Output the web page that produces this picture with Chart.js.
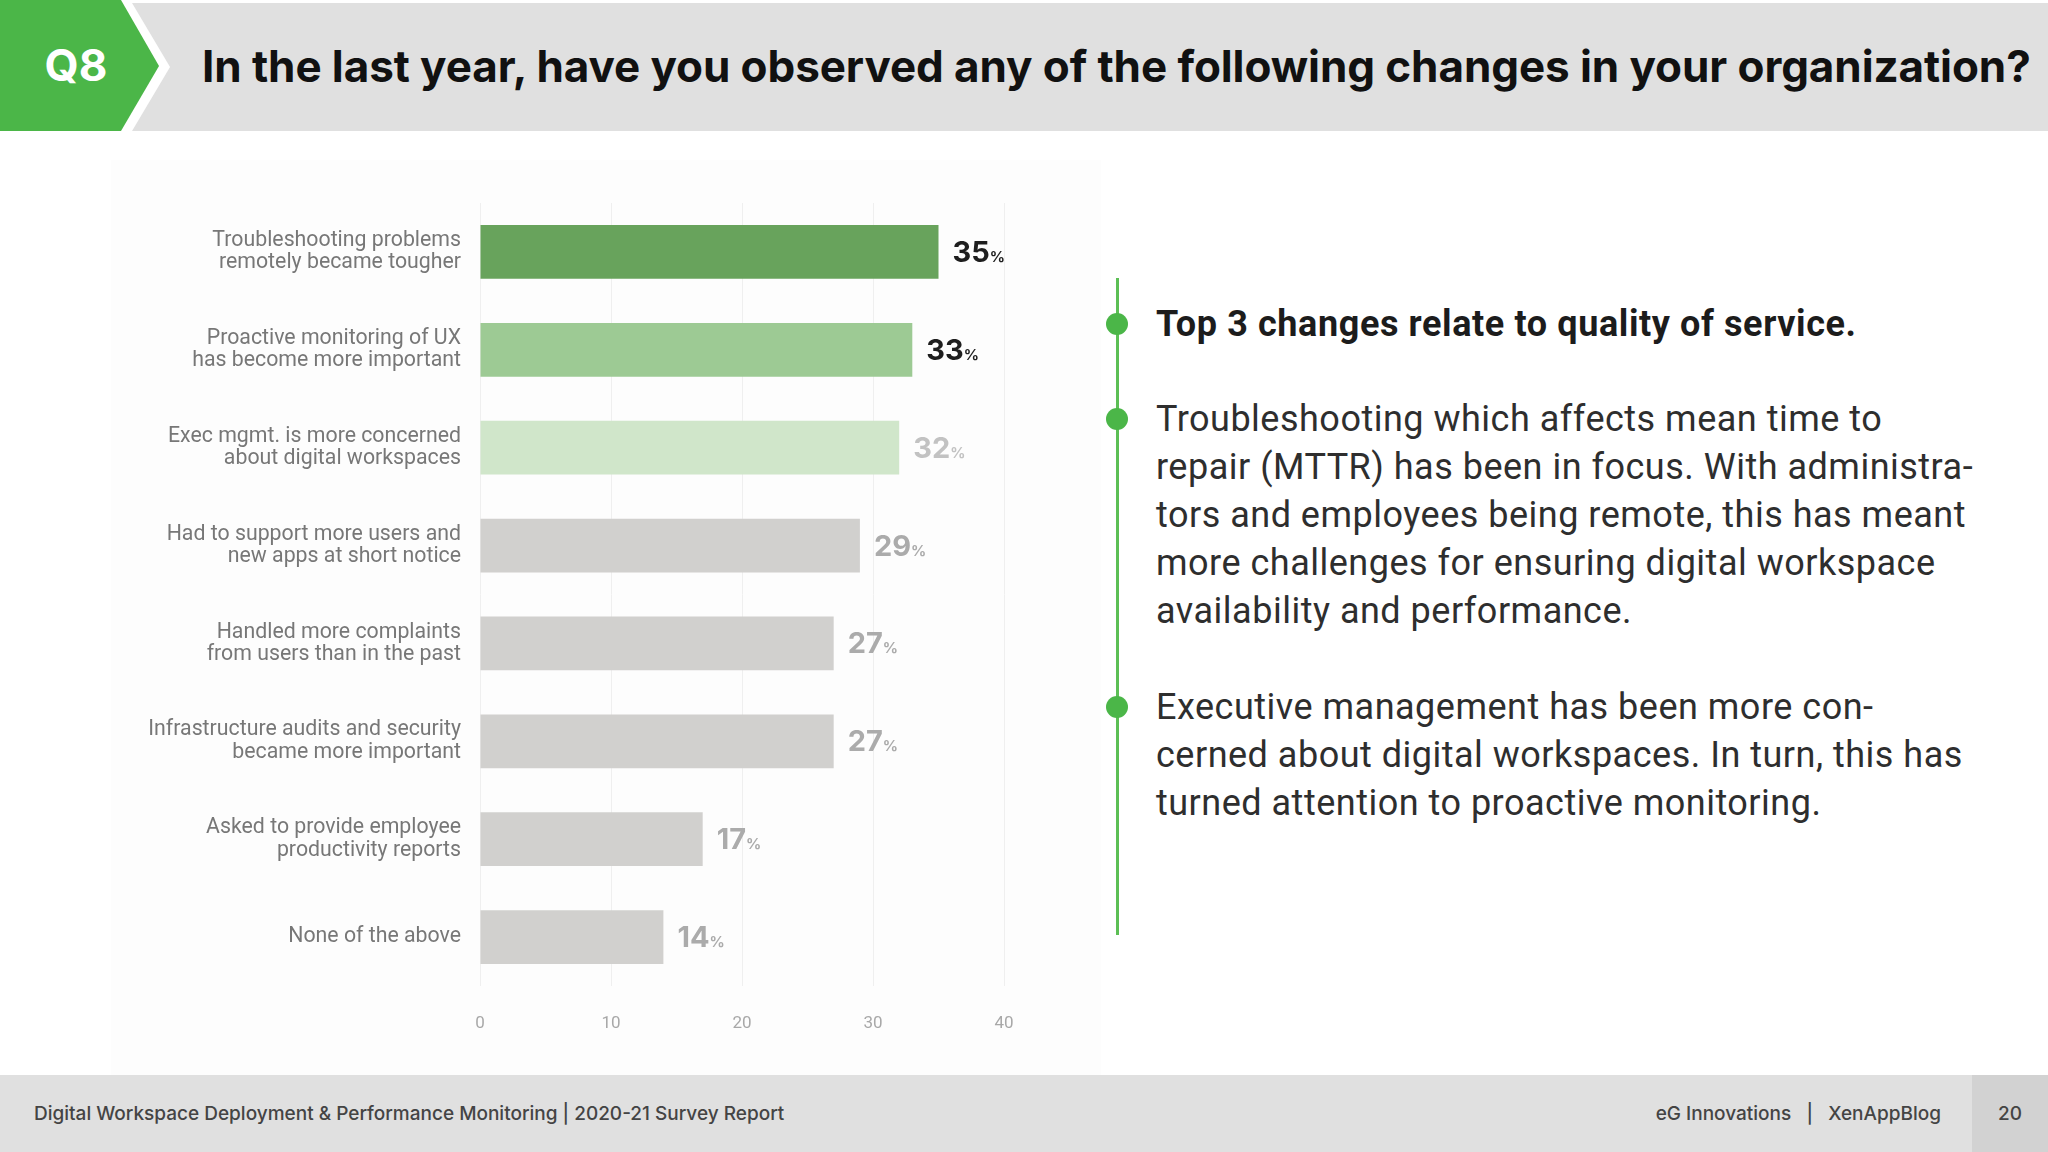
<!DOCTYPE html>
<html>
<head>
<meta charset="utf-8">
<script src="https://cdn.jsdelivr.net/npm/chart.js@4/dist/chart.umd.min.js"></script>
<style>
  html, body { margin: 0; padding: 0; background: #fff; }
  body { width: 2048px; height: 1152px; position: relative; overflow: hidden; font-family: Roboto, sans-serif; }
  .header { position: absolute; left: 0; top: 3px; width: 2048px; height: 128px; background: #e0e0e0; }
  .badge { position: absolute; left: 0; top: 0; }
  .q8 { position: absolute; left: 0; top: 0; width: 152px; height: 131px; text-align: center;
        color: #fff; font: 700 44px Inter, sans-serif; line-height: 131px; }
  .title { position: absolute; left: 202px; top: 40px; font: 700 44px Inter, sans-serif; color: #111; white-space: nowrap; line-height: 52px; }
  .panel { position: absolute; left: 111px; top: 160px; width: 990px; height: 915px; background: #fdfdfd; }
  #wrap { position: absolute; left: 0; top: 0; width: 1100px; height: 1060px; }
  .vline { position: absolute; left: 1116px; top: 278px; width: 3px; height: 657px; background: #5cbf55; }
  .dot { position: absolute; width: 22px; height: 22px; border-radius: 50%; background: #4bb648; left: 1106px; }
  .txt { position: absolute; left: 1156px; font: 400 36px Roboto, sans-serif; letter-spacing: 0.5px; color: #2e2e2e; line-height: 48px; white-space: nowrap; }
  .txt.b { font-weight: 700; color: #1c1c1c; letter-spacing: 0.6px; }
  .footer { position: absolute; left: 0; top: 1075px; width: 2048px; height: 77px; background: #e0e0e0; }
  .pagebox { position: absolute; right: 0; top: 0; width: 76px; height: 77px; background: #d2d2d2; text-align: center;
             font: 500 19px Inter, sans-serif; line-height: 77px; color: #444; }
  .ftl { position: absolute; left: 34px; top: 0; font: 500 19px Inter, sans-serif; line-height: 77px; color: #444; white-space: nowrap; }
  .ftr { position: absolute; right: 107px; top: 0; font: 500 19px Inter, sans-serif; line-height: 77px; color: #444; white-space: pre; }
</style>
</head>
<body>
<div class="header"></div>
<svg class="badge" width="200" height="131">
  <polygon points="0,3 132,3 170,67 132,131 0,131" fill="#ffffff"/>
  <polygon points="0,0 121,0 159,66 121,131 0,131" fill="#4bb648"/>
</svg>
<div class="q8">Q8</div>
<div class="title" id="title">In the last year, have you observed any of the following changes in your organization?</div>

<div class="panel"></div>
<div id="wrap"><canvas id="chart"></canvas></div>

<div class="vline"></div>
<div class="dot" style="top:313px"></div>
<div class="dot" style="top:408px"></div>
<div class="dot" style="top:696px"></div>
<div class="txt b" style="top:300px">Top 3 changes relate to quality of service.</div>
<div class="txt" style="top:395px">Troubleshooting which affects mean time to<br>repair (MTTR) has been in focus. With administra-<br>tors and employees being remote, this has meant<br>more challenges for ensuring digital workspace<br>availability and performance.</div>
<div class="txt" style="top:683px">Executive management has been more con-<br>cerned about digital workspaces. In turn, this has<br>turned attention to proactive monitoring.</div>

<div class="footer">
  <div class="ftl">Digital Workspace Deployment &amp; Performance Monitoring | 2020-21 Survey Report</div>
  <div class="ftr">eG Innovations   |   XenAppBlog</div>
  <div class="pagebox">20</div>
</div>

<script>
  // data
  const categories = [
    ["Troubleshooting problems", "remotely became tougher"],
    ["Proactive monitoring of UX", "has become more important"],
    ["Exec mgmt. is more concerned", "about digital workspaces"],
    ["Had to support more users and", "new apps at short notice"],
    ["Handled more complaints", "from users than in the past"],
    ["Infrastructure audits and security", "became more important"],
    ["Asked to provide employee", "productivity reports"],
    ["None of the above"]
  ];
  const values = [35, 33, 32, 29, 27, 27, 17, 14];
  const xTicks = [0, 10, 20, 30, 40];

  const barColors = ["#68a35c", "#9dca94", "#d0e6ca", "#d1d0ce", "#d1d0ce", "#d1d0ce", "#d1d0ce", "#d1d0ce"];
  const labelColors = ["#1e1e1e", "#1e1e1e", "#c2c2c2", "#ababab", "#ababab", "#ababab", "#ababab", "#ababab"];

  // stretch the title to the slide width
  (function () {
    const t = document.getElementById("title");
    const target = 1829;
    const w = t.getBoundingClientRect().width;
    const n = t.textContent.length;
    t.style.letterSpacing = ((target - w) / n).toFixed(2) + "px";
  })();

  // value labels "35%" with a small percent sign
  const valueLabels = {
    id: "valueLabels",
    afterDatasetsDraw(chart) {
      const ctx = chart.ctx;
      const meta = chart.getDatasetMeta(0);
      ctx.save();
      ctx.textBaseline = "alphabetic";
      ctx.textAlign = "left";
      meta.data.forEach((bar, i) => {
        const x = bar.x + 14;
        const y = bar.y + 10;
        ctx.fillStyle = labelColors[i];
        ctx.font = "700 29px Inter, sans-serif";
        const num = String(values[i]);
        ctx.fillText(num, x, y);
        const w = ctx.measureText(num).width;
        ctx.font = "700 15px Inter, sans-serif";
        ctx.fillText("%", x + w, y);
      });
      ctx.restore();
    }
  };

  new Chart(document.getElementById("chart"), {
    type: "bar",
    data: {
      labels: categories,
      datasets: [{
        data: values,
        backgroundColor: barColors,
        borderWidth: 0,
        categoryPercentage: 1,
        barPercentage: 0.55
      }]
    },
    options: {
      indexAxis: "y",
      responsive: true,
      maintainAspectRatio: false,
      animation: false,
      devicePixelRatio: 1,
      layout: { padding: { top: 203, right: 96, left: 0, bottom: 0 } },
      plugins: { legend: { display: false }, tooltip: { enabled: false } },
      scales: {
        x: {
          min: xTicks[0],
          max: xTicks[xTicks.length - 1],
          afterBuildTicks(scale) { scale.ticks = xTicks.map(v => ({ value: v })); },
          grid: { color: "#efefef", drawTicks: false, lineWidth: 1 },
          border: { display: false },
          ticks: { color: "#a8a8a8", font: { family: "Roboto", size: 17 }, padding: 28 },
          afterFit(scale) { scale.height = 74; }
        },
        y: {
          grid: { display: false, drawTicks: false },
          border: { display: false },
          ticks: { color: "#777777", font: { family: "Roboto", size: 21.3, lineHeight: 1.05 }, padding: 19, autoSkip: false },
          afterFit(scale) { scale.width = 480; }
        }
      }
    },
    plugins: [valueLabels]
  });
</script>
</body>
</html>
